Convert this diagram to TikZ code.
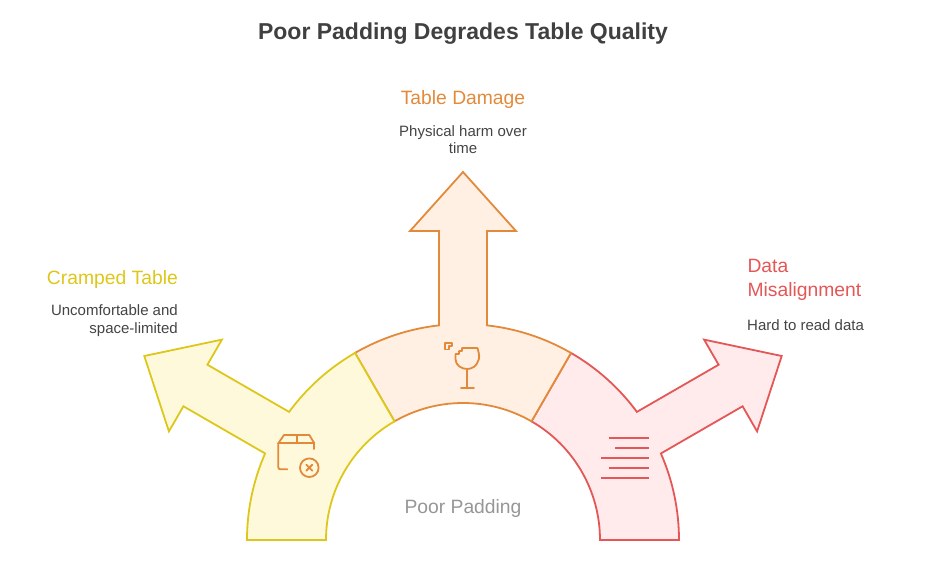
\documentclass[tikz,border=0pt]{standalone}
\usepackage{fontspec}
\setmainfont{Liberation Sans}
\definecolor{ylw}{RGB}{221,199,26}
\definecolor{ylwf}{RGB}{255,249,220}
\definecolor{org}{RGB}{227,138,58}
\definecolor{orgf}{RGB}{255,240,227}
\definecolor{rd}{RGB}{229,86,86}
\definecolor{rdf}{RGB}{255,235,235}
\definecolor{lbl}{RGB}{150,150,150}
\definecolor{dsc}{RGB}{68,68,68}
\definecolor{ttl}{RGB}{64,64,64}
\begin{document}
\begin{tikzpicture}[x=1pt,y=1pt,
  seg/.style={line width=1.8pt, line join=miter},
  icon/.style={line width=1.8pt, line cap=round, line join=round},
  head/.style={font=\fontsize{19.3}{24}\selectfont, inner sep=0pt},
  desc/.style={font=\fontsize{15}{17.5}\selectfont, text=dsc, inner sep=0pt}]
\useasboundingbox (0,0) rectangle (926,579);
\begin{scope}[shift={(463,39)}]
% red segment (0..60), arrow at 30
\draw[seg, draw=rd, fill=rdf] (0:216) arc[start angle=0, end angle=23.62, radius=216]
  -- (25.56:309.93) -- (20.27:313.51) -- (30:368) -- (39.73:313.51) -- (34.44:309.93)
  -- (36.38:216) arc[start angle=36.38, end angle=60, radius=216]
  -- (60:137) arc[start angle=60, end angle=0, radius=137] -- cycle;
% orange segment (60..120), arrow at 90
\draw[seg, draw=org, fill=orgf] (60:216) arc[start angle=60, end angle=83.62, radius=216]
  -- (85.56:309.93) -- (80.27:313.51) -- (90:368) -- (99.73:313.51) -- (94.44:309.93)
  -- (96.38:216) arc[start angle=96.38, end angle=120, radius=216]
  -- (120:137) arc[start angle=120, end angle=60, radius=137] -- cycle;
% yellow segment (120..180), arrow at 150
\draw[seg, draw=ylw, fill=ylwf] (120:216) arc[start angle=120, end angle=143.62, radius=216]
  -- (145.56:309.93) -- (140.27:313.51) -- (150:368) -- (159.73:313.51) -- (154.44:309.93)
  -- (156.38:216) arc[start angle=156.38, end angle=180, radius=216]
  -- (180:137) arc[start angle=180, end angle=120, radius=137] -- cycle;
\end{scope}
% box icon
\begin{scope}[icon, draw=org]
\draw (278.3,135.7) -- (284,144) -- (309.3,144) -- (314.3,135.7);
\draw (278.3,135.7) -- (314.3,135.7);
\draw (296.7,144) -- (296.7,135.7);
\draw[rounded corners=2pt] (278.3,135.7) -- (278.3,109.7) -- (287.3,109.7);
\draw (314.3,135.7) -- (314.3,130);
\draw (309.3,111.3) circle[radius=9.3];
\draw (306.3,108.3) -- (312.3,114.3) (306.3,114.3) -- (312.3,108.3);
\end{scope}
% glass icon
\begin{scope}[icon, draw=org]
\draw (462,231) -- (477.5,231) .. controls (479.5,224) and (479.5,221) .. (478.5,219)
  .. controls (477,213) and (472,210) .. (467.3,210)
  .. controls (461,210) and (455.5,214) .. (455.5,220) -- (455.5,225) -- (459,225)
  -- (459,228) -- (462,228) -- cycle;
\draw (445,236) -- (452,236) -- (452,233) -- (449,233) -- (449,229.5) -- (445,229.5) -- cycle;
\draw (467.3,210) -- (467.3,190.7);
\draw (461,190.7) -- (474,190.7);
\end{scope}
% lines icon
\begin{scope}[icon, draw=rd, line cap=butt]
\draw (609,141.3) -- (649,141.3);
\draw (615,131.3) -- (649,131.3);
\draw (601,121.3) -- (649,121.3);
\draw (609,111.3) -- (649,111.3);
\draw (601,101.3) -- (649,101.3);
\end{scope}
% texts
\node[font=\bfseries\fontsize{23}{28}\selectfont, text=ttl, inner sep=0pt] (title) at (463,545) {Poor Padding Degrades Table Quality};
\node[head, text=org] (dmg) at (463,479) {Table Damage};
\node[desc, align=center] (dmgd) at (463,439.5) {Physical harm over\\time};
\node[head, text=ylw, anchor=east] (cr) at (178,299.3) {Cramped Table};
\node[desc, align=right, anchor=east] (crd) at (178,258.5) {Uncomfortable and\\space-limited};
\node[head, text=rd, align=left, anchor=west] (mis) at (747.3,299) {\fontsize{19.3}{24}\selectfont Data\\Misalignment};
\node[desc, anchor=west] (misd) at (747,254) {Hard to read data};
\node[head, text=lbl] (pp) at (463,70) {Poor Padding};
\end{tikzpicture}
\end{document}
